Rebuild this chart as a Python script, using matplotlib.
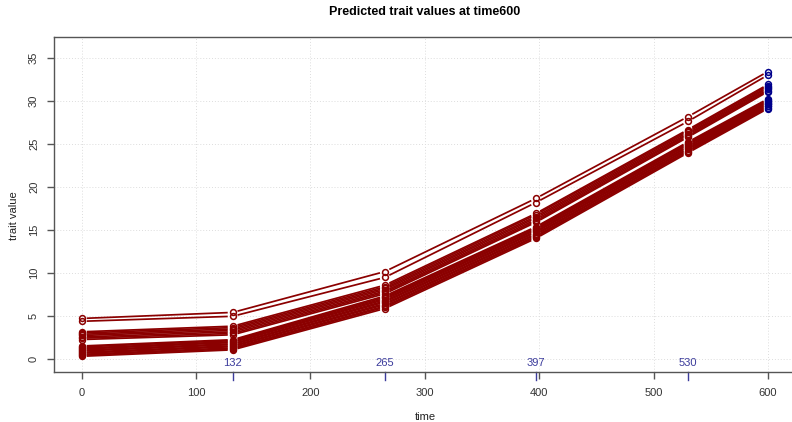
import numpy as np
import matplotlib.pyplot as plt
from matplotlib.collections import LineCollection
from matplotlib.transforms import blended_transform_factory

plt.rcParams['font.family'] = ['Liberation Sans', 'DejaVu Sans']

# time points of the prediction
times = [0, 132, 265, 397, 530, 600]
marked_times = [132, 265, 397, 530]

# predicted trait values, one list per line (values at each time point)
top_lines = [
    [4.75, 5.45, 10.20, 18.70, 28.20, 33.45],
    [4.42, 5.00, 9.52, 18.22, 27.65, 33.05],
]
middle_lines = [
    [3.20, 3.85, 8.62, 16.95, 26.70, 31.95],
    [3.06, 3.69, 8.44, 16.80, 26.56, 31.82],
    [2.91, 3.53, 8.27, 16.60, 26.41, 31.66],
    [2.77, 3.36, 8.11, 16.43, 26.24, 31.53],
    [2.60, 3.19, 7.93, 16.24, 26.10, 31.37],
    [2.46, 3.01, 7.78, 16.07, 25.94, 31.24],
    [2.30, 2.85, 7.62, 15.92, 25.82, 31.12],
]
bottom_lines = [
    [1.55, 2.28, 7.36, 15.40, 25.26, 30.28],
    [1.44, 2.17, 7.22, 15.29, 25.15, 30.17],
    [1.30, 2.05, 7.08, 15.15, 25.03, 30.07],
    [1.19, 1.95, 6.95, 15.03, 24.92, 29.95],
    [1.06, 1.81, 6.79, 14.88, 24.77, 29.85],
    [0.96, 1.71, 6.66, 14.76, 24.66, 29.72],
    [0.82, 1.57, 6.49, 14.60, 24.51, 29.62],
    [0.71, 1.47, 6.36, 14.48, 24.40, 29.49],
    [0.58, 1.33, 6.19, 14.32, 24.25, 29.39],
    [0.47, 1.22, 6.06, 14.20, 24.14, 29.26],
    [0.35, 1.10, 5.90, 14.05, 24.00, 29.15],
]
all_lines = top_lines + middle_lines + bottom_lines

red = '#8B0000'
blue = '#00008B'
gap = 5.0  # pixels left open around each point, like R type="b"

fig = plt.figure(figsize=(7.92, 4.22), dpi=100)
ax = fig.add_axes([54.3 / 792, 50.3 / 422, (795.4 - 54.3) / 792, 335 / 422])
ax.set_xlim(-24, 624)
ax.set_ylim(-1.44, 37.5)

ax.set_xticks(range(0, 601, 100))
ax.set_yticks(range(0, 36, 5))
ax.grid(True, color='#dddddd', linestyle=(0, (1, 2)), linewidth=0.7)
ax.set_axisbelow(True)

for s in ['left', 'bottom', 'top']:
    ax.spines[s].set_color('#555555')
    ax.spines[s].set_linewidth(1.0)
ax.spines['right'].set_visible(False)
ax.tick_params(length=5, width=1, color='#555555', labelsize=8, labelcolor='#333333')
ax.tick_params(axis='x', pad=7)
ax.tick_params(axis='y', pad=6)
plt.setp(ax.get_yticklabels(), rotation=90, va='center')

# segments with gaps around the points
trans = ax.transData
inv = trans.inverted()
for vals in all_lines:
    pix = trans.transform(np.column_stack([times, vals]))
    segs = []
    for i in range(len(pix) - 1):
        p0, p1 = pix[i], pix[i + 1]
        d = p1 - p0
        u = d / np.hypot(d[0], d[1])
        segs.append(inv.transform(np.array([p0 + u * gap, p1 - u * gap])))
    ax.add_collection(LineCollection(segs, colors=red, linewidths=1.25, capstyle='butt', zorder=3))
    ax.plot(times[:-1], vals[:-1], 'o', ms=4.2, mfc='none', mec=red, mew=1.1, zorder=4)
    ax.plot(times[-1:], vals[-1:], 'o', ms=4.2, mfc='none', mec=blue, mew=1.1, zorder=5)

# marked time points under the axis
bt = blended_transform_factory(ax.transData, ax.transAxes)
for t in marked_times:
    ax.plot([t, t], [0, -8.5 / 335], color='#3C3C9C', lw=1.0, transform=bt, clip_on=False)
    ax.annotate(str(t), xy=(t, 0), xycoords=bt, xytext=(0, 3), textcoords='offset points',
                ha='center', va='bottom', fontsize=8, color='#3C3C9C')

fig.text(425 / 792, 1 - 12 / 422, 'Predicted trait values at time600',
         ha='center', va='center', fontsize=9, fontweight='bold')
fig.text(425 / 792, 1 - 417 / 422, 'time', ha='center', va='center', fontsize=8, color='#222222')
fig.text(14 / 792, 1 - 216 / 422, 'trait value', ha='center', va='center', rotation=90,
         fontsize=8, color='#222222')

fig.savefig('out.png', dpi=100)
